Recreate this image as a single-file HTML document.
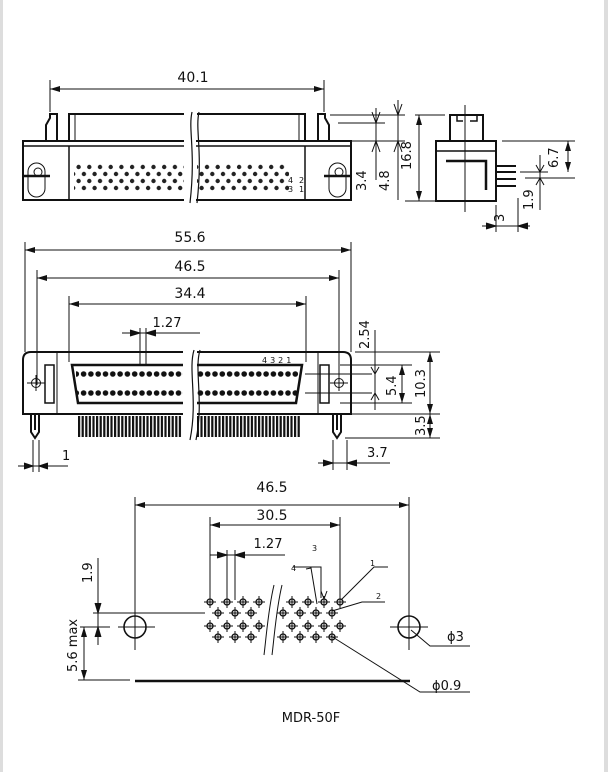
<!DOCTYPE html>
<html><head><meta charset="utf-8"><style>
html,body{margin:0;padding:0;background:#fff;}
svg{display:block;}
text{font-family:"DejaVu Sans","Liberation Sans",sans-serif;fill:#111;}
</style></head><body>
<svg width="608" height="772" viewBox="0 0 608 772" xmlns="http://www.w3.org/2000/svg">
<defs>
<marker id="a" viewBox="0 0 10 6" refX="10" refY="3" markerWidth="10" markerHeight="6" orient="auto-start-reverse" markerUnits="userSpaceOnUse"><path d="M0,0L10,3L0,6z" fill="#111"/></marker>
<pattern id="d1" x="76" y="0" width="10.7" height="400" patternUnits="userSpaceOnUse"><circle cx="2.6" cy="167" r="2.2" fill="#222"/><circle cx="7.9" cy="174" r="2.2" fill="#222"/><circle cx="2.6" cy="181" r="2.2" fill="#222"/><circle cx="7.9" cy="188" r="2.2" fill="#222"/></pattern>
<pattern id="p2" x="80" y="0" width="7.3" height="500" patternUnits="userSpaceOnUse"><circle cx="3.6" cy="374" r="2.8" fill="#111"/><circle cx="3.6" cy="393" r="2.8" fill="#111"/></pattern>
<pattern id="pl" x="78" y="0" width="3.6" height="500" patternUnits="userSpaceOnUse"><rect x="0" y="0" width="2.2" height="500" fill="#111"/></pattern>
<g id="c"><circle r="3" fill="none" stroke="#111" stroke-width="1.3"/><path d="M-6,0H6M0,-6V6" stroke="#111" stroke-width="1"/></g>
</defs>
<rect x="0" y="0" width="3" height="772" fill="#ddd"/>
<rect x="604" y="0" width="4" height="772" fill="#ddd"/>

<g stroke="#111" fill="none" stroke-width="1">
<line x1="50" y1="89" x2="324" y2="89" marker-start="url(#a)" marker-end="url(#a)"/>
<line x1="50" y1="80" x2="50" y2="112"/><line x1="324" y1="80" x2="324" y2="112"/>
<rect x="23" y="141" width="328" height="59" stroke-width="2"/>
<line x1="23" y1="146" x2="351" y2="146" stroke-width="1.5"/>
<path d="M69,141V114H191M197,114H305V141" stroke-width="2"/>
<line x1="75" y1="114" x2="75" y2="141"/><line x1="299" y1="114" x2="299" y2="141"/>
<path d="M69,146V200M305,146V200" stroke-width="1.5"/>
<path d="M46,141V125L50,118V114H57V141" stroke-width="2"/>
<path d="M318,141V114H325V118L329,125V141" stroke-width="2"/>
<rect x="28" y="163" width="17" height="34" rx="8.5"/><circle cx="38" cy="172" r="4"/>
<line x1="24" y1="176" x2="50" y2="176" stroke-width="2.5"/>
<rect x="329" y="163" width="17" height="34" rx="8.5"/><circle cx="339" cy="172" r="4"/>
<line x1="324" y1="176" x2="350" y2="176" stroke-width="2.5"/>
<rect x="74" y="162" width="111" height="30" fill="url(#d1)" stroke="none"/>
<rect x="197" y="162" width="92" height="30" fill="url(#d1)" stroke="none"/>
<rect x="184" y="110" width="12" height="93" fill="#fff" stroke="none"/>
<path d="M192,112C188,130 196,150 190,203M199,112C195,130 203,150 197,203" stroke-width="1.2"/>
<line x1="330" y1="115" x2="405" y2="115"/><line x1="338" y1="123" x2="385" y2="123"/><line x1="340" y1="141" x2="405" y2="141"/>
<line x1="376" y1="108" x2="376" y2="180" /><line x1="398" y1="100" x2="398" y2="200"/>
<path d="M372,112L376,123L380,112M372,152L376,141L380,152M394,104L398,115L402,104M394,152L398,141L402,152" stroke-width="1"/>
<line x1="415" y1="115" x2="445" y2="115"/><line x1="405" y1="201" x2="436" y2="201"/>
<line x1="419" y1="115" x2="419" y2="201" marker-start="url(#a)" marker-end="url(#a)"/>
<rect x="436" y="141" width="60" height="60" stroke-width="2"/>
<line x1="436" y1="151" x2="496" y2="151" stroke-width="1.5"/>
<path d="M450,141V115H483V141" stroke-width="2"/>
<path d="M457,115V121H463M470,121H477V115" stroke-width="1.5"/>
<path d="M446,161H486V190" stroke-width="2.5"/>
<line x1="465" y1="105" x2="465" y2="212"/>
<path d="M496,166H516M496,172H516M496,179H516M496,186H516" stroke-width="2"/>
<line x1="502" y1="141" x2="575" y2="141"/><line x1="520" y1="172" x2="548" y2="172"/><line x1="525" y1="178" x2="575" y2="178"/>
<line x1="568" y1="141" x2="568" y2="172" marker-start="url(#a)" marker-end="url(#a)"/>
<line x1="540" y1="155" x2="540" y2="210"/>
<path d="M536,165L540,172L544,165M536,185L540,178L544,185"/>
<line x1="496" y1="205" x2="496" y2="232"/><line x1="518" y1="198" x2="518" y2="232"/>
<line x1="482" y1="226" x2="530" y2="226"/>
<path d="M486,223L496,226L486,229M528,223L518,226L528,229" fill="#111"/>

<line x1="25" y1="250" x2="351" y2="250" marker-start="url(#a)" marker-end="url(#a)"/>
<line x1="37" y1="278" x2="339" y2="278" marker-start="url(#a)" marker-end="url(#a)"/>
<line x1="69" y1="304" x2="306" y2="304" marker-start="url(#a)" marker-end="url(#a)"/>
<line x1="25" y1="242" x2="25" y2="352"/><line x1="351" y1="242" x2="351" y2="352"/>
<line x1="37" y1="270" x2="37" y2="385"/><line x1="339" y1="270" x2="339" y2="385"/>
<line x1="69" y1="296" x2="69" y2="362"/><line x1="306" y1="296" x2="306" y2="362"/>
<line x1="140" y1="328" x2="140" y2="365"/><line x1="146" y1="328" x2="146" y2="365"/>
<line x1="122" y1="333" x2="200" y2="333"/>
<path d="M130,330L140,333L130,336M156,330L146,333L156,336" fill="#111"/>
<path d="M23,360Q23,352 31,352H343Q351,352 351,360V414H23Z" stroke-width="2"/>
<line x1="57" y1="352" x2="57" y2="414"/><line x1="318" y1="352" x2="318" y2="414"/>
<rect x="45" y="365" width="9" height="38" stroke-width="1.5"/><rect x="320" y="365" width="9" height="38" stroke-width="1.5"/>
<circle cx="36" cy="383" r="4.5"/><path d="M27,383H45M36,375V391"/>
<circle cx="339" cy="383" r="4.5"/><path d="M330,383H348M339,375V391"/>
<path d="M72,365H302L296,403H78Z" stroke-width="2.5"/>
<rect x="76" y="367" width="222" height="33" fill="url(#p2)" stroke="none"/>
<path d="M372,374H305M372,393H305"/>
<rect x="78" y="416" width="104" height="21" fill="url(#pl)" stroke="none"/>
<rect x="194" y="416" width="106" height="21" fill="url(#pl)" stroke="none"/>
<path d="M31,414V432L35,438L39,432V414M35,414V430" stroke-width="2"/>
<path d="M333,414V432L337,438L341,432V414M337,414V430" stroke-width="2"/>
<rect x="183" y="344" width="14" height="96" fill="#fff" stroke="none"/>
<path d="M194,350C188,370 198,400 190,440M200,350C194,370 204,400 196,440" stroke-width="1.2"/>
<line x1="375" y1="330" x2="375" y2="410"/>
<line x1="355" y1="352" x2="440" y2="352"/><line x1="340" y1="365" x2="412" y2="365"/><line x1="340" y1="403" x2="412" y2="403"/>
<line x1="402" y1="365" x2="402" y2="403" marker-start="url(#a)" marker-end="url(#a)"/>
<path d="M371,367L375,374L379,367M371,400L375,393L379,400"/>
<line x1="430" y1="352" x2="430" y2="414" marker-start="url(#a)" marker-end="url(#a)"/>
<line x1="345" y1="414" x2="440" y2="414"/><line x1="345" y1="438" x2="440" y2="438"/>
<line x1="430" y1="414" x2="430" y2="438" marker-start="url(#a)" marker-end="url(#a)"/>
<line x1="33" y1="440" x2="33" y2="472"/><line x1="39" y1="440" x2="39" y2="472"/>
<line x1="18" y1="466" x2="68" y2="466"/>
<path d="M24,463L33,466L24,469M48,463L39,466L48,469" fill="#111"/>
<line x1="333" y1="440" x2="333" y2="470"/><line x1="347" y1="440" x2="347" y2="470"/>
<line x1="318" y1="463" x2="390" y2="463"/>
<path d="M323,460L333,463L323,466M357,460L347,463L357,466" fill="#111"/>

<line x1="135" y1="505" x2="409" y2="505" marker-start="url(#a)" marker-end="url(#a)"/>
<line x1="135" y1="497" x2="135" y2="650"/><line x1="409" y1="497" x2="409" y2="650"/>
<line x1="210" y1="525" x2="340" y2="525" marker-start="url(#a)" marker-end="url(#a)"/>
<line x1="210" y1="517" x2="210" y2="600"/><line x1="340" y1="517" x2="340" y2="600"/>
<line x1="227" y1="550" x2="227" y2="600"/><line x1="235" y1="550" x2="235" y2="600"/>
<line x1="210" y1="555" x2="285" y2="555"/>
<path d="M217,552L227,555L217,558M245,552L235,555L245,558" fill="#111"/>
<circle cx="135" cy="627" r="11" stroke-width="1.6"/><path d="M118,627H155M135,610V647"/>
<circle cx="409" cy="627" r="11" stroke-width="1.6"/><path d="M390,627H428M409,610V647"/>
<line x1="93" y1="613" x2="205" y2="613"/><line x1="80" y1="627" x2="110" y2="627"/>
<line x1="98" y1="558" x2="98" y2="645"/>
<path d="M95,603L98,613L101,603M95,637L98,627L101,637" fill="#111"/>
<line x1="84" y1="627" x2="84" y2="680" marker-start="url(#a)" marker-end="url(#a)"/>
<line x1="78" y1="680" x2="130" y2="680"/>
<line x1="135" y1="681" x2="410" y2="681" stroke-width="2.5"/>
<path d="M274,585C268,610 266,640 264,655M282,585C276,610 274,640 272,655" stroke-width="1"/>
<path d="M293,567H321V598" /><path d="M306,569L311,568L317,604"/>
<path d="M341,600L374,567H388"/><path d="M332,611L362,602H385"/>
<path d="M331,636L420,692H470"/><path d="M411,630L430,646H470"/>
<path d="M321,591L324,599L327,591"/>
</g>
<g>
<use href="#c" x="210" y="602"/><use href="#c" x="227" y="602"/><use href="#c" x="243" y="602"/><use href="#c" x="259" y="602"/>
<use href="#c" x="292" y="602"/><use href="#c" x="308" y="602"/><use href="#c" x="324" y="602"/><use href="#c" x="340" y="602"/>
<use href="#c" x="218" y="613"/><use href="#c" x="235" y="613"/><use href="#c" x="251" y="613"/>
<use href="#c" x="283" y="613"/><use href="#c" x="300" y="613"/><use href="#c" x="316" y="613"/><use href="#c" x="332" y="613"/>
<use href="#c" x="210" y="626"/><use href="#c" x="227" y="626"/><use href="#c" x="243" y="626"/><use href="#c" x="259" y="626"/>
<use href="#c" x="292" y="626"/><use href="#c" x="308" y="626"/><use href="#c" x="324" y="626"/><use href="#c" x="340" y="626"/>
<use href="#c" x="218" y="637"/><use href="#c" x="235" y="637"/><use href="#c" x="251" y="637"/>
<use href="#c" x="283" y="637"/><use href="#c" x="300" y="637"/><use href="#c" x="316" y="637"/><use href="#c" x="332" y="637"/>
</g>

<g font-size="14">
<text x="193" y="82" text-anchor="middle">40.1</text>
<text x="190" y="242" text-anchor="middle">55.6</text>
<text x="190" y="271" text-anchor="middle">46.5</text>
<text x="190" y="298" text-anchor="middle">34.4</text>
<text x="272" y="492" text-anchor="middle">46.5</text>
<text x="272" y="520" text-anchor="middle">30.5</text>
</g>
<g font-size="13">
<text x="167" y="327" text-anchor="middle">1.27</text>
<text x="268" y="548" text-anchor="middle">1.27</text>
<text x="62" y="460">1</text>
<text x="367" y="457">3.7</text>
<text x="366" y="191" transform="rotate(-90 366 191)">3.4</text>
<text x="389" y="191" transform="rotate(-90 389 191)">4.8</text>
<text x="411" y="170" transform="rotate(-90 411 170)">16.8</text>
<text x="558" y="168" transform="rotate(-90 558 168)">6.7</text>
<text x="533" y="210" transform="rotate(-90 533 210)">1.9</text>
<text x="504" y="222" transform="rotate(-90 504 222)">3</text>
<text x="369" y="349" transform="rotate(-90 369 349)">2.54</text>
<text x="396" y="396" transform="rotate(-90 396 396)">5.4</text>
<text x="425" y="398" transform="rotate(-90 425 398)">10.3</text>
<text x="425" y="436" transform="rotate(-90 425 436)">3.5</text>
<text x="92" y="583" transform="rotate(-90 92 583)">1.9</text>
<text x="77" y="672" transform="rotate(-90 77 672)">5.6 max</text>
<text x="447" y="641">ϕ3</text>
<text x="432" y="690">ϕ0.9</text>
<text x="311" y="722" text-anchor="middle">MDR-50F</text>
</g>
<g font-size="8">
<text x="288" y="183">4</text><text x="299" y="183">2</text><text x="288" y="192">3</text><text x="299" y="192">1</text>
<text x="262" y="363" letter-spacing="3">4321</text>
<text x="312" y="551">3</text><text x="291" y="571">4</text><text x="370" y="566">1</text><text x="376" y="599">2</text>
</g>
</svg>
</body></html>
